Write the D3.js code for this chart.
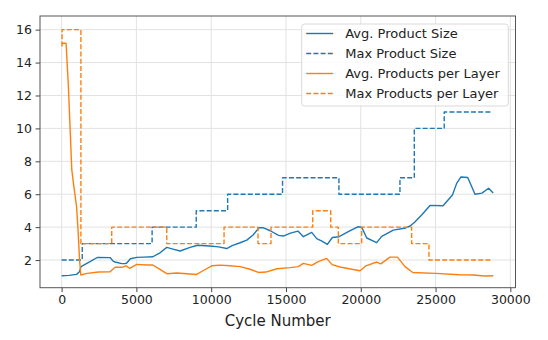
<!DOCTYPE html>
<html>
<head>
<meta charset="utf-8">
<script src="https://cdn.jsdelivr.net/npm/d3@7"></script>
<style>
  body { margin: 0; background: #fff; }
  svg { font-family: "DejaVu Sans", sans-serif; }
</style>
</head>
<body>
<svg id="LineChart"></svg>
<script>
// series: [cycle, value]
const avgProductSize = [[0,1.05],[500,1.07],[1000,1.13],[1190,1.29],[1300,1.6],[1600,1.75],[1900,1.9],[2350,2.14],[2460,2.16],[3240,2.15],[3460,1.92],[3575,1.88],[4020,1.78],[4240,1.78],[4355,1.82],[4600,2.08],[5025,2.16],[5500,2.18],[6100,2.2],[6580,2.44],[7030,2.77],[7500,2.65],[7920,2.55],[8590,2.77],[9100,2.9],[9900,2.85],[10500,2.8],[11040,2.7],[11400,2.88],[11930,3.05],[12380,3.21],[12800,3.52],[13200,3.96],[13500,3.96],[13950,3.78],[14500,3.5],[14825,3.46],[15300,3.64],[15800,3.76],[16160,3.42],[16720,3.68],[17055,3.3],[17400,3.15],[17765,2.95],[18100,3.37],[18550,3.42],[19200,3.74],[19800,4.02],[20060,4.0],[20400,3.34],[21065,3.06],[21400,3.44],[22175,3.82],[23000,3.95],[23300,4.07],[23600,4.3],[24070,4.74],[24630,5.32],[25500,5.3],[26130,5.95],[26410,6.66],[26700,7.05],[27150,7.02],[27400,6.5],[27635,6.0],[28100,6.07],[28550,6.36],[28850,6.07]]

const maxProductSize = [[0,2],[1380,3],[6050,4],[9000,5],[11100,6],[14770,7],[18540,6],[22620,7],[23580,10],[25580,11],[28800,11]]

const avgProductsPerLayer = [[0,15.17],[300,15.17],[455,12.5],[680,7.5],[800,6.6],[1000,5.24],[1100,3.8],[1200,2.0],[1283,1.09],[1700,1.19],[2460,1.27],[3240,1.29],[3575,1.56],[4020,1.56],[4310,1.65],[4550,1.5],[5025,1.74],[5700,1.7],[6100,1.7],[6360,1.56],[7030,1.17],[7700,1.21],[8370,1.17],[9000,1.12],[9450,1.35],[10040,1.65],[10600,1.69],[11260,1.65],[11930,1.6],[12600,1.44],[13200,1.24],[13650,1.27],[14400,1.47],[15270,1.54],[15825,1.6],[16160,1.8],[16720,1.68],[17160,1.9],[17720,2.1],[18080,1.72],[18610,1.58],[19400,1.44],[19950,1.35],[20350,1.65],[21065,1.88],[21340,1.77],[21950,2.18],[22450,2.18],[22960,1.6],[23480,1.24],[25000,1.19],[26600,1.11],[27500,1.09],[28300,1.03],[28860,1.05]]

const maxProductsPerLayer = [[0,15],[30,16],[1290,3],[3350,4],[7030,3],[10860,4],[13130,3],[14000,4],[16790,5],[17990,4],[18500,3],[20060,4],[23400,3],[24560,2],[28800,2]]

const xTicks = [0, 5000, 10000, 15000, 20000, 25000, 30000]
const yTicks = [2, 4, 6, 8, 10, 12, 14, 16]
const seriesNames = ["Avg. Product Size", "Max Product Size", "Avg. Products per Layer", "Max Products per Layer"]

var dimensions = {
    width: 548,
    height: 340,
    margin: { top: 16, bottom: 52.3, left: 40, right: 32.5 }
}

var svg = d3.select("#LineChart")
            .attr("width", dimensions.width)
            .attr("height", dimensions.height)

var xScale = d3.scaleLinear()
               .domain([-1445, 30345])
               .range([dimensions.margin.left, dimensions.width - dimensions.margin.right])

var yScale = d3.scaleLinear()
               .domain([0.32, 16.83])
               .range([dimensions.height - dimensions.margin.bottom, dimensions.margin.top])

var x0 = dimensions.margin.left, x1 = dimensions.width - dimensions.margin.right
var y0 = dimensions.margin.top, y1 = dimensions.height - dimensions.margin.bottom

// grid
svg.append("g").selectAll("line").data(xTicks).enter().append("line")
   .attr("x1", d => xScale(d)).attr("x2", d => xScale(d))
   .attr("y1", y0).attr("y2", y1)
   .attr("stroke", "#e2e2e2").attr("stroke-width", 1)
svg.append("g").selectAll("line").data(yTicks).enter().append("line")
   .attr("x1", x0).attr("x2", x1)
   .attr("y1", d => yScale(d)).attr("y2", d => yScale(d))
   .attr("stroke", "#e2e2e2").attr("stroke-width", 1)

var colors = ["#1f77b4", "#1f77b4", "#ff7f0e", "#ff7f0e"]
var dashes = [null, "5,2.2", null, "5,2.2"]
var allSeries = [avgProductSize, maxProductSize, avgProductsPerLayer, maxProductsPerLayer]

var smoothLine = d3.line().x(d => xScale(d[0])).y(d => yScale(d[1]))
var stepLine = d3.line().x(d => xScale(d[0])).y(d => yScale(d[1])).curve(d3.curveStepAfter)

var plot = svg.append("g")
plot.selectAll("path")
    .data(allSeries)
    .enter()
    .append("path")
    .attr("d", (d, i) => i % 2 == 1 ? stepLine(d) : smoothLine(d))
    .attr("fill", "none")
    .attr("stroke", (d, i) => colors[i])
    .attr("stroke-width", 1.4)
    .attr("stroke-dasharray", (d, i) => dashes[i])
    .attr("stroke-linejoin", "round")

// axes
var xAxisGen = d3.axisBottom().scale(xScale).tickValues(xTicks).tickSize(4.4).tickPadding(3.5).tickFormat(d3.format("d"))
var yAxisGen = d3.axisLeft().scale(yScale).tickValues(yTicks).tickSize(4.4).tickPadding(3.6).tickFormat(d3.format("d"))

var xAxis = svg.append("g").attr("transform", `translate(0, ${y1})`).call(xAxisGen)
var yAxis = svg.append("g").attr("transform", `translate(${x0}, 0)`).call(yAxisGen)
;[xAxis, yAxis].forEach(a => {
    a.select(".domain").remove()
    a.selectAll(".tick line").attr("stroke", "#444").attr("stroke-width", 1)
    a.selectAll(".tick text").attr("fill", "#222").style("font-size", "12.5px").style("font-family", "DejaVu Sans")
})

svg.append("rect")
   .attr("x", x0).attr("y", y0)
   .attr("width", x1 - x0).attr("height", y1 - y0)
   .attr("fill", "none").attr("stroke", "#555").attr("stroke-width", 1)

svg.append("text")
   .attr("x", (x0 + x1) / 2)
   .attr("y", 326)
   .attr("text-anchor", "middle")
   .attr("fill", "#222")
   .style("font-size", "15px")
   .text("Cycle Number")

// legend
var legend = svg.append("g").attr("transform", "translate(301.7, 24)")
legend.append("rect")
      .attr("width", 206.6).attr("height", 82)
      .attr("rx", 3)
      .attr("fill", "white").attr("fill-opacity", 0.8)
      .attr("stroke", "#d9d9d9")

legend.selectAll("line")
      .data(seriesNames)
      .enter()
      .append("line")
      .attr("x1", 4.5).attr("x2", 31.5)
      .attr("y1", (d, i) => 9.5 + i * 20).attr("y2", (d, i) => 9.5 + i * 20)
      .attr("stroke", (d, i) => colors[i])
      .attr("stroke-width", 1.4)
      .attr("stroke-dasharray", (d, i) => dashes[i])

legend.selectAll("text")
      .data(seriesNames)
      .enter()
      .append("text")
      .attr("x", 43.5)
      .attr("y", (d, i) => 9.5 + i * 20)
      .attr("dy", "0.36em")
      .attr("fill", "#222")
      .style("font-size", "13px")
      .text(d => d)
</script>
</body>
</html>
